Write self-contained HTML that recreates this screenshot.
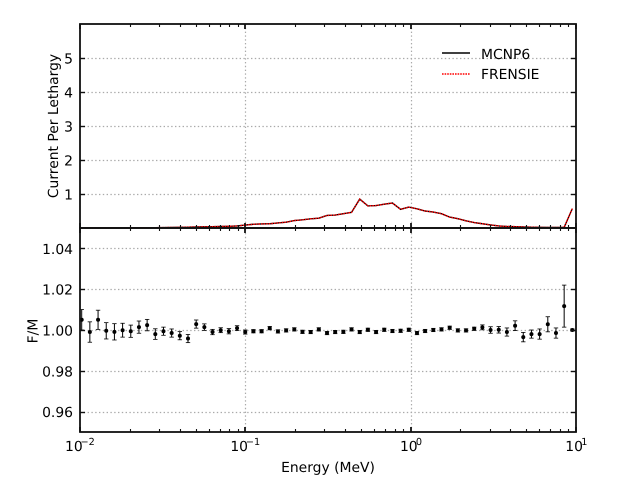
<!DOCTYPE html>
<html>
<head>
<meta charset="utf-8">
<style>
html,body{margin:0;padding:0;background:#fff;}
svg{display:block;font-family:"DejaVu Sans","Liberation Sans",sans-serif;font-size:13.89px;fill:#000;text-rendering:geometricPrecision;}
</style>
</head>
<body>
<svg id="chart" xmlns="http://www.w3.org/2000/svg" width="640" height="480" viewBox="0 0 640 480">
  <rect x="0" y="0" width="640" height="480" fill="#fff"/>
  <g id="grid"></g>
  <g id="series"></g>
  <g id="ticks"></g>
  <rect x="80" y="24" width="496" height="204" fill="none" stroke="#111" stroke-width="1.8"/>
  <rect x="80" y="228" width="496" height="204" fill="none" stroke="#111" stroke-width="1.8"/>
  <g id="labels"></g>
  <text transform="translate(58,126) rotate(-90)" text-anchor="middle">Current Per Lethargy</text>
  <text transform="translate(37.5,331) rotate(-90)" text-anchor="middle">F/M</text>
  <text x="328" y="472" text-anchor="middle">Energy (MeV)</text>
  <g>
    <line x1="442" y1="53" x2="470" y2="53" stroke="#000" stroke-width="1.4"/>
    <text x="481" y="59">MCNP6</text>
    <line x1="442" y1="74" x2="470" y2="74" stroke="#f00" stroke-width="1.4" stroke-dasharray="1.6 1"/>
    <text x="481" y="79">FRENSIE</text>
  </g>
</svg>
<script>
var energies = [0.01024,0.01147,0.01286,0.01441,0.01615,0.01810,0.02028,0.02273,0.02547,0.02854,0.03198,0.03584,0.04016,0.04500,0.05043,0.05651,0.06333,0.07097,0.07952,0.08912,0.09986,0.1119,0.1254,0.1405,0.1575,0.1765,0.1978,0.2216,0.2484,0.2783,0.3119,0.3495,0.3917,0.4389,0.4919,0.5512,0.6177,0.6922,0.7757,0.8693,0.9743,1.092,1.223,1.371,1.536,1.722,1.929,2.162,2.423,2.715,3.043,3.410,3.821,4.282,4.798,5.377,6.026,6.752,7.567,8.480,9.502];
var mcnp6 = [0.001,0.001,0.001,0.002,0.002,0.003,0.004,0.006,0.008,0.010,0.013,0.016,0.020,0.025,0.030,0.035,0.040,0.045,0.050,0.060,0.085,0.110,0.120,0.125,0.150,0.170,0.220,0.240,0.270,0.290,0.370,0.380,0.420,0.460,0.850,0.650,0.660,0.700,0.735,0.550,0.615,0.565,0.500,0.470,0.420,0.320,0.275,0.210,0.160,0.125,0.090,0.060,0.045,0.040,0.030,0.025,0.020,0.015,0.015,0.020,0.570];
var frensie = [0.001,0.001,0.001,0.002,0.002,0.003,0.004,0.006,0.008,0.010,0.013,0.016,0.020,0.025,0.030,0.035,0.040,0.045,0.050,0.060,0.085,0.110,0.120,0.125,0.150,0.170,0.220,0.240,0.270,0.290,0.370,0.380,0.420,0.460,0.850,0.650,0.660,0.700,0.735,0.550,0.615,0.565,0.500,0.470,0.420,0.320,0.275,0.210,0.160,0.125,0.090,0.060,0.045,0.040,0.030,0.025,0.020,0.015,0.015,0.020,0.570];
var ratio = [1.0052,0.9992,1.0052,0.9998,0.9993,1.0001,0.9996,1.0016,1.0026,0.9982,0.9996,0.9987,0.9974,0.9960,1.0031,1.0016,0.9992,1.0001,0.9996,1.0011,0.9992,0.9996,0.9996,1.0011,0.9995,1.0000,1.0005,0.9993,0.9992,1.0005,0.9987,0.9992,0.9993,1.0005,0.9992,1.0003,0.9992,1.0003,0.9997,0.9998,1.0003,0.9987,0.9997,1.0002,1.0005,1.0013,1.0000,1.0000,1.0008,1.0015,1.0002,1.0003,0.9992,1.0023,0.9967,0.9982,0.9982,1.0030,0.9987,1.0119,1.0002];
var ratioErr = [0.0050,0.0050,0.0047,0.0040,0.0040,0.0034,0.0030,0.0030,0.0028,0.0026,0.0020,0.0020,0.0020,0.0020,0.0020,0.0016,0.0013,0.0012,0.0013,0.0012,0.0010,0.0008,0.0008,0.0008,0.0008,0.0008,0.0008,0.0008,0.0008,0.0008,0.0008,0.0008,0.0008,0.0008,0.0008,0.0008,0.0008,0.0008,0.0008,0.0008,0.0008,0.0008,0.0008,0.0008,0.0008,0.0008,0.0008,0.0008,0.0008,0.0012,0.0016,0.0016,0.0020,0.0024,0.0023,0.0020,0.0025,0.0037,0.0025,0.0103,0.0005];
var topTicks = [1,2,3,4,5];
var bottomTicks = [0.96,0.98,1.00,1.02,1.04];
var bottomTickLabels = ["0.96","0.98","1.00","1.02","1.04"];
var decades = [-2,-1,0,1];
var minorFactors = [2,3,4,5,6,7,8,9];

var NS = "http://www.w3.org/2000/svg";
function xScale(e){ return 80 + (Math.log10(e) + 2) * 496 / 3; }
function yTop(v){ return 228 - v * 34; }
function yBottom(v){ return 330 + (1 - v) * 2040; }
function snap(p){ return Math.round(p) + 0.5; }

function make(tag, parent, attrs){
  var el = document.createElementNS(NS, tag);
  for (var k in attrs) el.setAttribute(k, attrs[k]);
  parent.appendChild(el);
  return el;
}
var gridG = document.getElementById("grid");
var seriesG = document.getElementById("series");
var ticksG = document.getElementById("ticks");
var labelsG = document.getElementById("labels");
var gridStyle = {stroke:"#aaaaaa","stroke-width":1.2,"stroke-dasharray":"1.4 2.4",fill:"none"};
var el, i, j;

function gridLine(x1,y1,x2,y2){
  var a = {x1:x1,y1:y1,x2:x2,y2:y2};
  for (var k in gridStyle) a[k] = gridStyle[k];
  return make("line", gridG, a);
}
function tickLine(x1,y1,x2,y2,w){
  return make("line", ticksG, {x1:x1,y1:y1,x2:x2,y2:y2,stroke:"#111","stroke-width":w});
}

// vertical grid and x ticks
decades.forEach(function(d){
  var x = xScale(Math.pow(10,d));
  var sx = Math.round(x);
  if (d === -1 || d === 0) {
    el = gridLine(sx+0.5,24,sx+0.5,432);
    
    
  }
  [[24,1],[228,-1],[228,1],[432,-1]].forEach(function(t){
    el = tickLine(sx,t[0],sx,t[0]+t[1]*5,1.8);
    
    
  });
  if (d < 1) minorFactors.forEach(function(m){
    var mx = Math.round(xScale(m*Math.pow(10,d)))+0.5;
    [[24,1],[228,-1],[228,1],[432,-1]].forEach(function(t){
      el = tickLine(mx,t[0],mx,t[0]+t[1]*3,1.1);
      
      
    });
  });
  // x tick label: base with superscript exponent
  var baseOffset = d < 0 ? -15 : -10.7;
  var supOffset = d < 0 ? 0.5 : 5.2;
  el = make("text", labelsG, {x:x+baseOffset,y:451});
  
  
  el.textContent = "10";
  var sup = make("text", labelsG, {x:x+supOffset,y:445,"font-size":"9.7px"});
  
  
  sup.textContent = d < 0 ? "\u2212" + (-d) : String(d);
});

// top panel y
topTicks.forEach(function(v){
  var y = yTop(v);
  el = gridLine(80,snap(y),576,snap(y));
  
  
  el = tickLine(80,snap(y),85,snap(y),1.4);
  
  
  el = tickLine(571,snap(y),576,snap(y),1.4);
  
  
  el = make("text", labelsG, {x:73,y:y+5.5,"text-anchor":"end"});
  
  
  el.textContent = String(v);
});

// bottom panel y
bottomTicks.forEach(function(v,n){
  var y = yBottom(v);
  el = gridLine(80,snap(y),576,snap(y));
  
  
  el = tickLine(80,snap(y),85,snap(y),1.4);
  
  
  el = tickLine(571,snap(y),576,snap(y),1.4);
  
  
  el = make("text", labelsG, {x:73,y:y+5.5,"text-anchor":"end"});
  
  
  el.textContent = bottomTickLabels[n];
});

// series lines
function pathFor(vals){
  return vals.map(function(v,n){ return xScale(energies[n]).toFixed(2)+","+yTop(v).toFixed(2); }).join(" ");
}
el = make("polyline", seriesG, {points:pathFor(mcnp6),fill:"none",stroke:"#000","stroke-width":1.4});


el = make("polyline", seriesG, {points:pathFor(frensie),fill:"none",stroke:"#f00","stroke-width":1.4,"stroke-dasharray":"1.6 1"});



// ratio points and error bars
ratio.forEach(function(v,n){
  var x = xScale(energies[n]);
  var cy = yBottom(v) + 0.4;
  var t = Math.max(yBottom(v + ratioErr[n]) + 0.4, 228);
  var b = yBottom(v - ratioErr[n]) + 0.4;
  el = make("line", seriesG, {x1:x,y1:t,x2:x,y2:b,stroke:"#000","stroke-width":1});
  
  
  el = make("line", seriesG, {x1:x-2.2,y1:t,x2:x+2.2,y2:t,stroke:"#000","stroke-width":0.8});
  
  
  el = make("line", seriesG, {x1:x-2.2,y1:b,x2:x+2.2,y2:b,stroke:"#000","stroke-width":0.8});
  
  
  el = make("circle", seriesG, {cx:x,cy:cy,r:2,fill:"#000"});
  
  
});
</script>
</body>
</html>
